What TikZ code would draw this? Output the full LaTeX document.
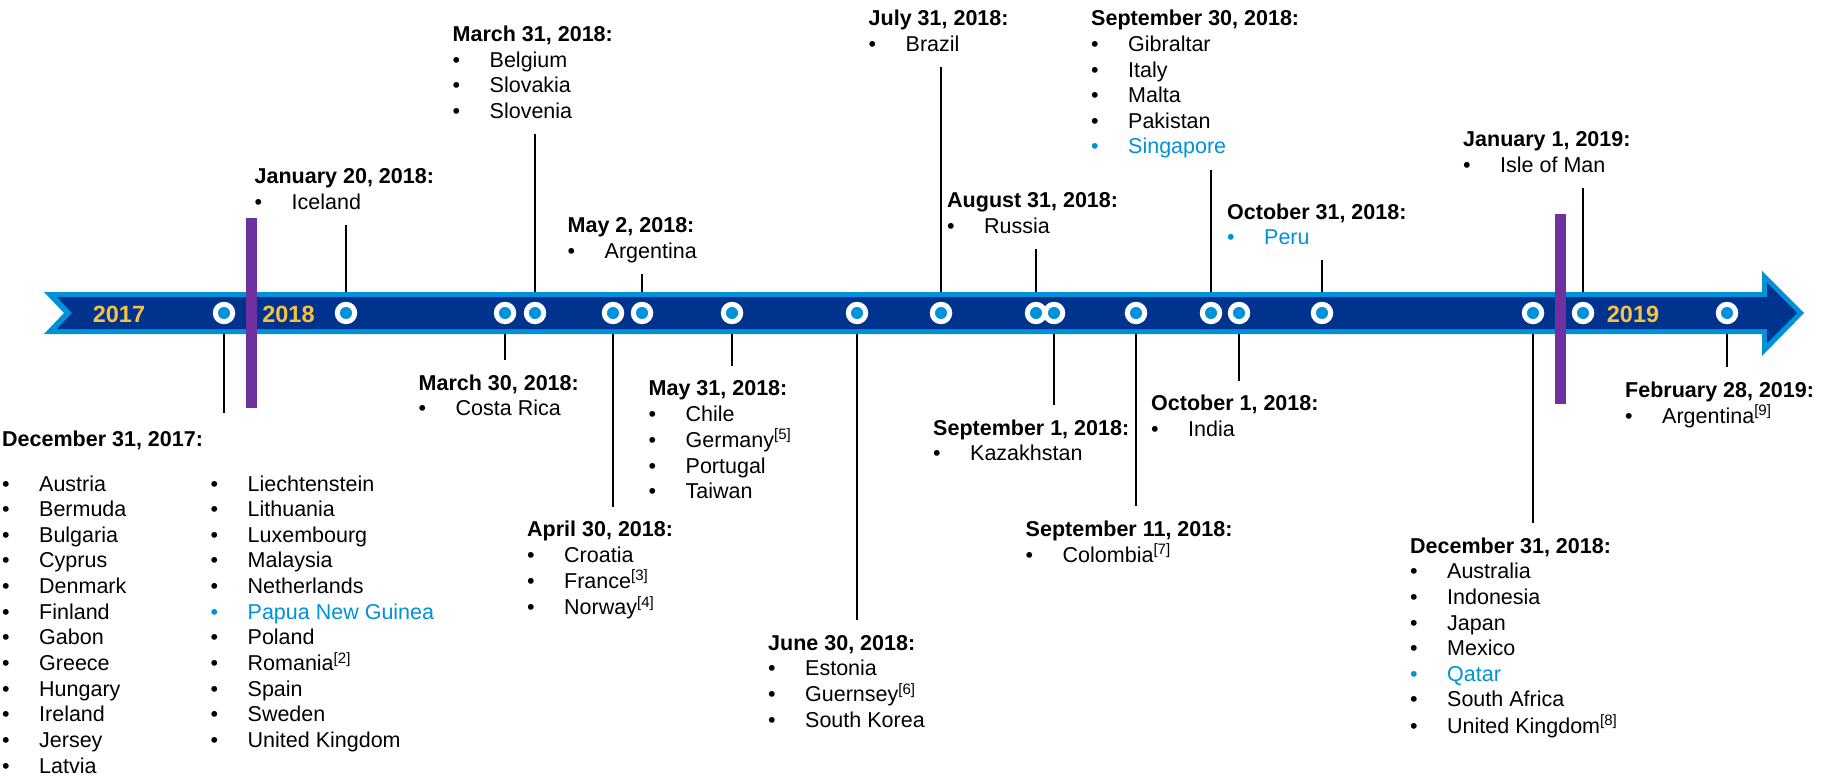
\documentclass[tikz,border=0pt]{standalone}
\usepackage{fontspec}
\setmainfont{Liberation Sans}
\usepackage{xcolor}
\usepackage{tikz}
\usetikzlibrary{calc}

\definecolor{kdark}{HTML}{00338D}
\definecolor{kmid}{HTML}{0091DA}
\definecolor{kpurple}{HTML}{7030A0}
\definecolor{kgold}{HTML}{F6C243}

\newcommand\itm[1]{\makebox[37pt][l]{\textbullet}#1}
\newcommand\bitm[1]{{\color{kmid}\itm{#1}}}
\newcommand\datehd[1]{\textbf{#1}}

\tikzset{
  evt/.style={circle, draw=white, line width=5pt, fill=kmid, minimum size=17.4pt, inner sep=0pt},
  info/.style={anchor=base west, inner sep=0pt, font=\fontsize{21.5}{25.6}\selectfont},
  year/.style={anchor=base, inner sep=0pt, text=kgold, font=\bfseries\fontsize{23.5}{28}\selectfont},
  riser/.style={line width=2pt, shorten >=8pt},
  drop/.style={line width=2pt, shorten >=12pt},
  bar/.style={fill=kpurple},
}

\begin{document}
\begin{tikzpicture}[x=1pt,y=-1pt]
\useasboundingbox (0,0) rectangle (1825,778);

% timeline band
\fill[kmid] (44,292) -- (1762,292) -- (1762,271) -- (1804,313) -- (1762,356)
  -- (1762,334) -- (44,334) -- (64,313) -- cycle;
\fill[kdark] (57,297) -- (1767,297) -- (1767,283) -- (1797,313) -- (1767,343)
  -- (1767,329) -- (57,329) -- (72,313) -- cycle;
\coordinate (bandtop) at (0,292);
\coordinate (bandbot) at (0,334);

\node[year] (y2017) at (119,322.7) {2017};
\node[year] (y2018) at (288.5,322.7) {2018};
\node[year] (y2019) at (1633,322.7) {2019};

\fill[bar] (246,218) rectangle (257,408);
\fill[bar] (1555,214) rectangle (1566,404);

\foreach \x/\n in {224/dec17, 346/jan20, 505/mar30, 535/mar31, 613/apr30, 642/may2,
    732/may31, 857/jun30, 941/jul31, 1036/aug31, 1054/sep1, 1136/sep11, 1211/sep30,
    1239/oct1, 1322/oct31, 1533/dec18, 1583/jan19, 1727/feb19}
  \node[evt] (\n) at (\x,313) {};

% dates and countries
\node[info] (txt-dec17) at (2,446) {\begin{tabular}[t]{@{}p{208.5pt}@{}l@{}}
  \multicolumn{2}{@{}l@{}}{\datehd{December 31, 2017:}}\\[19.4pt]
  \itm{Austria} & \itm{Liechtenstein}\\
  \itm{Bermuda} & \itm{Lithuania}\\
  \itm{Bulgaria} & \itm{Luxembourg}\\
  \itm{Cyprus} & \itm{Malaysia}\\
  \itm{Denmark} & \itm{Netherlands}\\
  \itm{Finland} & \bitm{Papua New Guinea}\\
  \itm{Gabon} & \itm{Poland}\\
  \itm{Greece} & \itm{Romania\textsuperscript{[2]}}\\
  \itm{Hungary} & \itm{Spain}\\
  \itm{Ireland} & \itm{Sweden}\\
  \itm{Jersey} & \itm{United Kingdom}\\
  \itm{Latvia} & \\
\end{tabular}};

\node[info] (txt-jan20) at (254.5,183.5) {\begin{tabular}[t]{@{}l@{}}
  \datehd{January 20, 2018:}\\
  \itm{Iceland}
\end{tabular}};

\node[info] (txt-mar31) at (452.5,41.7) {\begin{tabular}[t]{@{}l@{}}
  \datehd{March 31, 2018:}\\
  \itm{Belgium}\\
  \itm{Slovakia}\\
  \itm{Slovenia}
\end{tabular}};

\node[info] (txt-may2) at (567.5,232.5) {\begin{tabular}[t]{@{}l@{}}
  \datehd{May 2, 2018:}\\
  \itm{Argentina}
\end{tabular}};

\node[info] (txt-mar30) at (418.5,390) {\begin{tabular}[t]{@{}l@{}}
  \datehd{March 30, 2018:}\\
  \itm{Costa Rica}
\end{tabular}};

\node[info] (txt-may31) at (648.5,395.7) {\begin{tabular}[t]{@{}l@{}}
  \datehd{May 31, 2018:}\\
  \itm{Chile}\\
  \itm{Germany\textsuperscript{[5]}}\\
  \itm{Portugal}\\
  \itm{Taiwan}
\end{tabular}};

\node[info] (txt-apr30) at (527,536.7) {\begin{tabular}[t]{@{}l@{}}
  \datehd{April 30, 2018:}\\
  \itm{Croatia}\\
  \itm{France\textsuperscript{[3]}}\\
  \itm{Norway\textsuperscript{[4]}}
\end{tabular}};

\node[info] (txt-jun30) at (768,650) {\begin{tabular}[t]{@{}l@{}}
  \datehd{June 30, 2018:}\\
  \itm{Estonia}\\
  \itm{Guernsey\textsuperscript{[6]}}\\
  \itm{South Korea}
\end{tabular}};

\node[info] (txt-jul31) at (868.5,26) {\begin{tabular}[t]{@{}l@{}}
  \datehd{July 31, 2018:}\\
  \itm{Brazil}
\end{tabular}};

\node[info] (txt-sep30) at (1091,26) {\begin{tabular}[t]{@{}l@{}}
  \datehd{September 30, 2018:}\\
  \itm{Gibraltar}\\
  \itm{Italy}\\
  \itm{Malta}\\
  \itm{Pakistan}\\
  \bitm{Singapore}
\end{tabular}};

\node[info] (txt-aug31) at (947,207.7) {\begin{tabular}[t]{@{}l@{}}
  \datehd{August 31, 2018:}\\
  \itm{Russia}
\end{tabular}};

\node[info] (txt-oct31) at (1227,219) {\begin{tabular}[t]{@{}l@{}}
  \datehd{October 31, 2018:}\\
  \bitm{Peru}
\end{tabular}};

\node[info] (txt-sep1) at (933,435) {\begin{tabular}[t]{@{}l@{}}
  \datehd{September 1, 2018:}\\
  \itm{Kazakhstan}
\end{tabular}};

\node[info] (txt-oct1) at (1151,410.7) {\begin{tabular}[t]{@{}l@{}}
  \datehd{October 1, 2018:}\\
  \itm{India}
\end{tabular}};

\node[info] (txt-sep11) at (1025.5,536) {\begin{tabular}[t]{@{}l@{}}
  \datehd{September 11, 2018:}\\
  \itm{Colombia\textsuperscript{[7]}}
\end{tabular}};

\node[info] (txt-dec18) at (1410,553.3) {\begin{tabular}[t]{@{}l@{}}
  \datehd{December 31, 2018:}\\
  \itm{Australia}\\
  \itm{Indonesia}\\
  \itm{Japan}\\
  \itm{Mexico}\\
  \bitm{Qatar}\\
  \itm{South Africa}\\
  \itm{United Kingdom\textsuperscript{[8]}}
\end{tabular}};

\node[info] (txt-jan19) at (1463,146.7) {\begin{tabular}[t]{@{}l@{}}
  \datehd{January 1, 2019:}\\
  \itm{Isle of Man}
\end{tabular}};

\node[info] (txt-feb19) at (1625,397.3) {\begin{tabular}[t]{@{}l@{}}
  \datehd{February 28, 2019:}\\
  \itm{Argentina\textsuperscript{[9]}}
\end{tabular}};

% connectors
\foreach \n in {jan20, mar31, may2, jul31, aug31, sep30, oct31, jan19}
  \draw[riser] (\n |- bandtop) -- (\n |- txt-\n.south);
\foreach \n in {mar30, apr30, may31, jun30, sep1, sep11, oct1, dec18, feb19}
  \draw[drop] (\n |- bandbot) -- (\n |- txt-\n.north);
\draw[drop, shorten >=15pt] (dec17 |- bandbot) -- (dec17 |- txt-dec17.north);
\end{tikzpicture}
\end{document}
